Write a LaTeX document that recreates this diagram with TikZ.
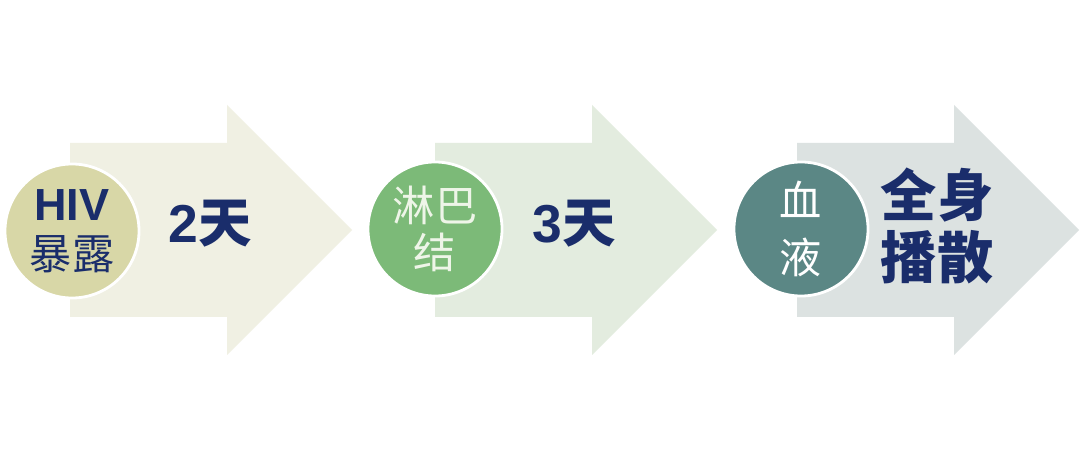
\documentclass[tikz,border=0pt]{standalone}
\usepackage{fontspec}
\setsansfont{Liberation Sans}
\newfontfamily\cjk{Noto Sans CJK SC}
\definecolor{navy}{HTML}{1A2D6B}
\definecolor{arrowA}{HTML}{F0F0E3}
\definecolor{arrowB}{HTML}{E3ECDF}
\definecolor{arrowC}{HTML}{DCE2E1}
\definecolor{expofill}{HTML}{D8D7A7}
\definecolor{lymphfill}{HTML}{7CBA78}
\definecolor{bloodfill}{HTML}{5B8785}
\definecolor{paletext}{HTML}{EEF5E8}
% one stage arrow: left edge of the shaft, colour
\newcommand{\stagearrow}[2]{%
  \fill[#2] (#1,143) -- ++(157,0) -- ++(0,-38) -- ++(125,125) -- ++(-125,125) -- ++(0,-38) -- ++(-157,0) -- cycle;}
\begin{document}
\begin{tikzpicture}[x=0.025cm, y=-0.025cm,
    stage/.style={shape=circle, minimum size=3.35cm, inner sep=0pt, draw=white, line width=2pt, align=center},
    days/.style={text=navy, font={\fontsize{38}{40}\selectfont\bfseries}}]

    \useasboundingbox[fill=white] (0,0) rectangle (1080,452);

    \stagearrow{70}{arrowA}
    \stagearrow{435}{arrowB}
    \stagearrow{797}{arrowC}

    \node[stage, fill=expofill, text=navy, font={\fontsize{30}{34.7}\selectfont}] (expo) at (72,231)
        {{\sffamily\bfseries\fontsize{32}{34.7}\selectfont HIV}\\{\cjk 暴露}};
    \node[stage, fill=lymphfill, text=paletext, font={\fontsize{30}{34}\selectfont\cjk}] (lymph) at (435,229)
        {淋巴\\结};
    \node[stage, fill=bloodfill, text=white, font={\fontsize{30}{41}\selectfont\cjk}] (blood) at (801,229)
        {血\\液};

    \node[days] (d2) at (210,224) {\sffamily 2\cjk 天};
    \node[days] (d3) at (574,224) {\sffamily 3\cjk 天};
    \node[days, align=center, font={\fontsize{40}{44}\selectfont\bfseries\cjk}] (spread) at (937,226) {全身\\播散};

\end{tikzpicture}
\end{document}
